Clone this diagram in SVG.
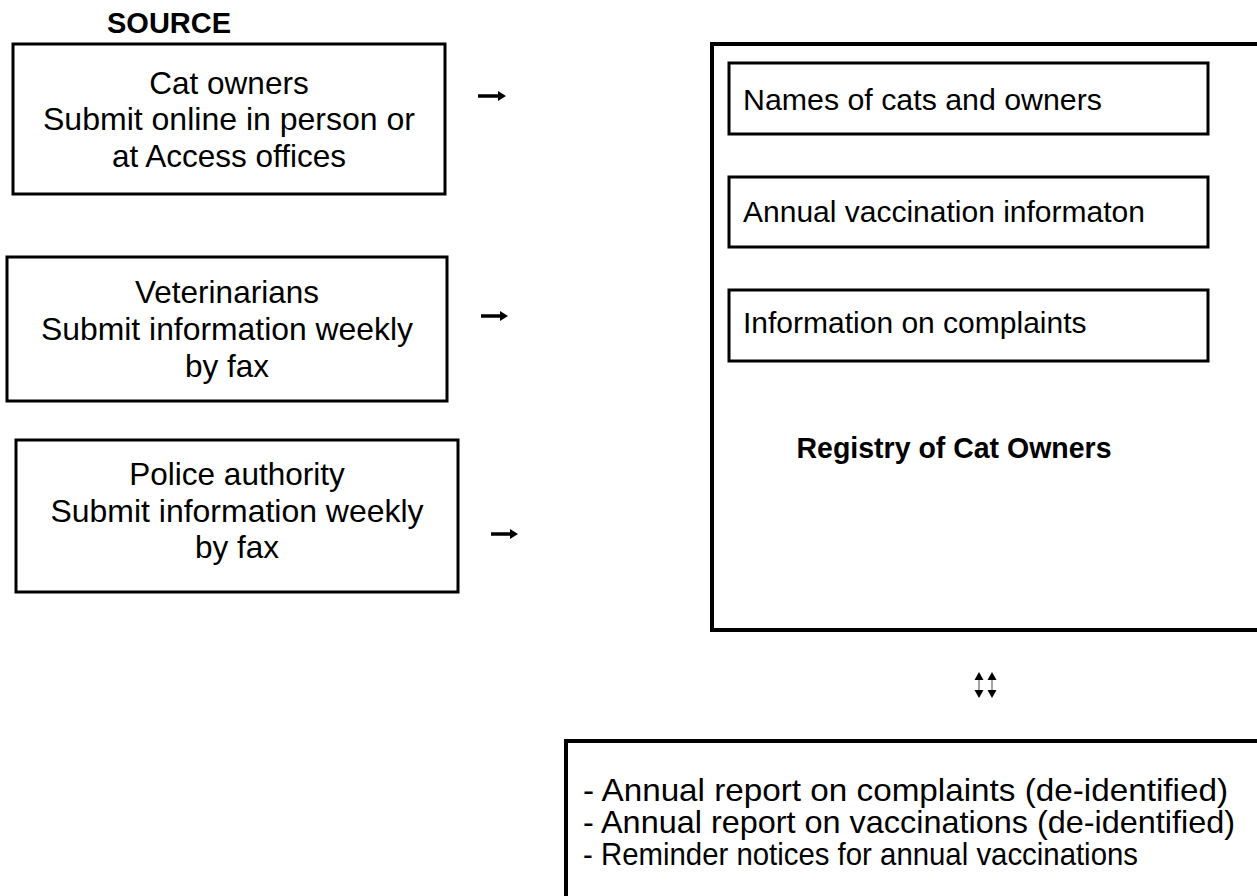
<svg xmlns="http://www.w3.org/2000/svg" width="1257" height="896" viewBox="0 0 1257 896">
<style>
.box{fill:#fff;stroke:#000;stroke-width:3}
.big{fill:#fff;stroke:#000;stroke-width:4}
.t{font-family:"Liberation Sans",Arial,sans-serif;font-size:30px;fill:#000}
.l{font-size:31.5px}
.o{font-size:30.5px}
.c{text-anchor:middle}
.b{font-weight:bold}
.arr{fill:#000;stroke:none}
.shaft{stroke:#999;stroke-width:1.8}
</style>
<rect width="1257" height="896" fill="#fff"/>
<text class="t b" x="107" y="33" style="font-size:29px">SOURCE</text>
<g id="cat-owners">
<rect class="box" x="13" y="44" width="432" height="150"/>
<text class="t l c" x="229" y="94">Cat owners</text>
<text class="t l c" x="229" y="130" textLength="372" lengthAdjust="spacingAndGlyphs">Submit online in person or</text>
<text class="t l c" x="229" y="167">at Access offices</text>
</g>
<g id="veterinarians">
<rect class="box" x="7" y="257" width="440" height="144"/>
<text class="t l c" x="227" y="303">Veterinarians</text>
<text class="t l c" x="227" y="340" textLength="372" lengthAdjust="spacingAndGlyphs">Submit information weekly</text>
<text class="t l c" x="227" y="377">by fax</text>
</g>
<g id="police">
<rect class="box" x="16" y="440" width="442" height="152"/>
<text class="t l c" x="237" y="485">Police authority</text>
<text class="t l c" x="237" y="522" textLength="373" lengthAdjust="spacingAndGlyphs">Submit information weekly</text>
<text class="t l c" x="237" y="558">by fax</text>
</g>
<g id="registry">
<rect class="big" x="712" y="44" width="560" height="586"/>
<text class="t c b" x="954" y="458" textLength="315" lengthAdjust="spacingAndGlyphs">Registry of Cat Owners</text>
</g>
<g id="names">
<rect class="box" x="729" y="63" width="479" height="71"/>
<text class="t" x="743" y="110" textLength="359" lengthAdjust="spacingAndGlyphs">Names of cats and owners</text>
</g>
<g id="vaccination">
<rect class="box" x="729" y="177" width="479" height="70"/>
<text class="t" x="743" y="222">Annual vaccination informaton</text>
</g>
<g id="complaints">
<rect class="box" x="729" y="290" width="479" height="71"/>
<text class="t" x="743" y="333">Information on complaints</text>
</g>
<g id="outputs">
<rect class="big" x="566" y="741" width="710" height="170"/>
<text class="t o" x="583" y="801" textLength="645" lengthAdjust="spacingAndGlyphs">- Annual report on complaints (de-identified)</text>
<text class="t o" x="583" y="833" textLength="652" lengthAdjust="spacingAndGlyphs">- Annual report on vaccinations (de-identified)</text>
<text class="t o" x="583" y="865" textLength="555" lengthAdjust="spacingAndGlyphs">- Reminder notices for annual vaccinations</text>
</g>
<g id="connectors">
<path class="arr" d="M478 94.3 H498 V91 L506 96 L498 101 V97.7 H478 Z"/>
<path class="arr" d="M481 314.3 H500 V311 L508 316 L500 321 V317.7 H481 Z"/>
<path class="arr" d="M491 532.3 H510 V529 L518 534 L510 539 V535.7 H491 Z"/>
<line class="shaft" x1="979" y1="678" x2="979" y2="692"/>
<line class="shaft" x1="992" y1="678" x2="992" y2="692"/>
<path class="arr" d="M979 672 L983.5 680 H974.5 Z M979 698 L983.5 690 H974.5 Z M992 672 L996.5 680 H987.5 Z M992 698 L996.5 690 H987.5 Z"/>
</g>
</svg>
